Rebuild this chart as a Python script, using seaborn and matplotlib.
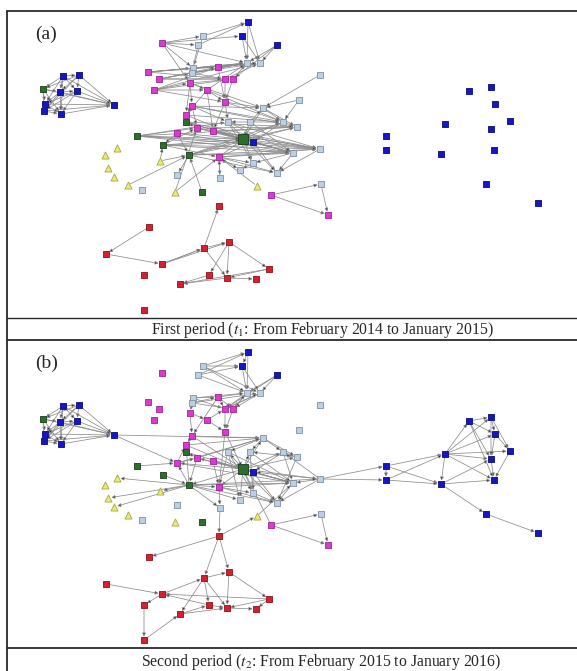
import numpy as np
import pandas as pd
import matplotlib
matplotlib.use("Agg")
import matplotlib.pyplot as plt
from matplotlib.lines import Line2D
import seaborn as sns

sns.set_style("white")
plt.rcParams['font.family'] = ['Liberation Serif', 'DejaVu Serif']
plt.rcParams['mathtext.fontset'] = 'stix'

# node layout (same layout in both periods)
node_x = [63, 79, 43, 60, 77, 45, 44, 61, 114,
          248, 203, 198, 242, 277, 162, 247, 260, 148, 159, 154,
          193, 192, 218, 190, 207, 225, 233, 225, 320, 299,
          192, 186, 186, 197, 213, 263, 283, 297, 137, 163,
          243, 253, 228, 189, 219, 320, 293, 253, 277, 240,
          220, 177, 160, 128, 142, 175, 202, 257, 271, 321,
          328, 105, 117, 108, 114,
          219, 149, 106, 162, 204, 229, 269, 209, 227, 256, 180, 144, 144,
          469, 491, 495, 510, 445, 491, 386, 386, 441, 494, 486, 538,
          177, 250]
node_y = [76, 75, 89, 92, 91, 104, 111, 114, 105,
          22, 36, 45, 36, 45, 43, 63, 63, 72, 79, 90,
          68, 73, 67, 83, 90, 79, 79, 102, 75, 100,
          106, 115, 122, 128, 131, 108, 122, 127, 136, 145,
          139, 142, 122, 155, 157, 149, 153, 163, 173, 170,
          178, 175, 161, 185, 190, 192, 192, 186, 195, 184,
          215, 155, 148, 168, 177,
          206, 227, 254, 264, 248, 242, 269, 275, 278, 279, 284, 275, 310,
          91, 87, 104, 121, 124, 129, 136, 150, 154, 150, 184, 203,
          133, 122]
node_group = list("BBGBBBBBB"
                  "BLLBBMLLMMM"
                  "LLMMMMMMLL"
                  "MMGMMLLLGG"
                  "GBLGMLLLLL"
                  "LLYYLYGYML"
                  "MYYYY"
                  "RRRRRRRRRRRRR"
                  "BBBBBBBBBBBB"
                  "ML")
node_big = [40]

left_edges = [(0, 1), (0, 2), (0, 3), (0, 4), (0, 5), (0, 7), (1, 3), (1, 4), (1, 2), (1, 6),
              (2, 3), (2, 5), (2, 6), (2, 7), (3, 4), (3, 5), (3, 6), (3, 7), (4, 5), (4, 7),
              (4, 6), (5, 6), (5, 7), (6, 7), (0, 8), (1, 8), (2, 8), (3, 8), (4, 8), (5, 8),
              (6, 8), (7, 8)]

edges_a = [(14, 10), (14, 11), (14, 20), (14, 23), (10, 9), (11, 9), (10, 20), (11, 21), (9, 15),
           (9, 16), (12, 15), (12, 16), (13, 16), (13, 15), (13, 26), (17, 20), (17, 22), (17, 25),
           (18, 21), (18, 22), (18, 26), (19, 23), (19, 24), (19, 27), (20, 22), (21, 25), (20, 15),
           (21, 16), (22, 15), (25, 16), (26, 15), (23, 24), (23, 30), (24, 27), (22, 27), (25, 27),
           (26, 27), (24, 31), (23, 31), (30, 31), (31, 32), (30, 33), (32, 33), (27, 34), (27, 42),
           (24, 34), (30, 42), (28, 35), (29, 35), (29, 36), (35, 36), (35, 37), (36, 37), (35, 40),
           (36, 40), (37, 40), (36, 41), (38, 40), (38, 41), (38, 33), (38, 42), (39, 40), (39, 44),
           (39, 33), (43, 40), (43, 41), (43, 36), (43, 46), (43, 45), (44, 45), (44, 46), (44, 40),
           (40, 45), (40, 46), (41, 46), (41, 48), (40, 47), (42, 47), (42, 48), (33, 46), (34, 46),
           (34, 37), (32, 41), (33, 40), (34, 40), (44, 49), (44, 50), (47, 49), (46, 48), (45, 48),
           (46, 47), (43, 51), (53, 43), (55, 33), (56, 43), (57, 44), (50, 44), (58, 59), (58, 60),
           (59, 60), (90, 39), (90, 43), (90, 40), (91, 40), (91, 35), (91, 42), (52, 39), (31, 41),
           (30, 37), (32, 46), (27, 35), (24, 36),
           (17, 15), (17, 16), (18, 15), (19, 26), (19, 16), (14, 15), (14, 12), (38, 45), (38, 46),
           (38, 37), (39, 45), (39, 46), (43, 37), (43, 48), (32, 45), (31, 36), (30, 36), (33, 45),
           (34, 45), (44, 48), (44, 47), (42, 46), (42, 45), (41, 45), (91, 46), (91, 36), (30, 35),
           (23, 35), (27, 36), (33, 37), (32, 37), (39, 41), (90, 46), (44, 41), (55, 44), (52, 43),
           (20, 16), (21, 15), (22, 16), (24, 15), (23, 26), (18, 25), (19, 22),
           (66, 67), (67, 68), (68, 69), (68, 70), (69, 65), (69, 70), (69, 73), (70, 72), (70, 73),
           (70, 71), (71, 73), (73, 74), (73, 75), (72, 75), (71, 75), (68, 69)]

edges_b = [(10, 9), (11, 9), (10, 12), (11, 12), (9, 12), (12, 15), (9, 15), (13, 15), (13, 16),
           (12, 16), (10, 16), (11, 15), (13, 25), (20, 22), (21, 22), (20, 25), (21, 26), (15, 25),
           (16, 26), (15, 26), (16, 25), (22, 25), (22, 26), (20, 23), (21, 23), (23, 24), (24, 25),
           (24, 27), (25, 27), (26, 27), (23, 30), (22, 30), (8, 35), (8, 90), (30, 35), (30, 31),
           (30, 40), (27, 44), (27, 40), (31, 40), (32, 40), (32, 33), (33, 43), (34, 40), (34, 44),
           (40, 35), (40, 36), (40, 37), (40, 41), (40, 42), (40, 91), (40, 46), (40, 47), (40, 48),
           (40, 49), (40, 45), (40, 90), (40, 43), (40, 44), (40, 33), (35, 36), (35, 91), (35, 42),
           (36, 37), (37, 91), (36, 41), (42, 44), (91, 47), (46, 48), (47, 48), (45, 46), (45, 48),
           (45, 36), (45, 41), (45, 84), (45, 85), (41, 47), (42, 49), (43, 52), (43, 62), (43, 63),
           (43, 64), (43, 44), (43, 46), (43, 49), (43, 50), (43, 31), (43, 90), (38, 90), (39, 43),
           (90, 33), (90, 31), (44, 50), (50, 65), (65, 57), (57, 46), (58, 59), (58, 60), (59, 60),
           (58, 40), (44, 47),
           (20, 15), (21, 16), (10, 15), (22, 15), (25, 16), (26, 15), (31, 35), (90, 35), (33, 35),
           (43, 45), (43, 48), (44, 46), (44, 48), (33, 46), (34, 46), (90, 46), (42, 46), (41, 46),
           (91, 46), (36, 46), (37, 48), (35, 37), (41, 48), (42, 47),
           (84, 85), (84, 82), (84, 86), (85, 82), (85, 86), (82, 78), (82, 79), (82, 80), (82, 81),
           (82, 83), (82, 87), (82, 86), (78, 79), (78, 80), (78, 83), (79, 80), (79, 81), (80, 83),
           (80, 81), (81, 87), (83, 87), (79, 83), (86, 83), (86, 87), (86, 88), (88, 89), (78, 87),
           (65, 66), (65, 69), (65, 70), (69, 70), (68, 69), (69, 72), (69, 75), (70, 73), (70, 71),
           (67, 68), (68, 76), (76, 77), (77, 75), (75, 73), (75, 72), (72, 73), (73, 74), (71, 74),
           (71, 73), (71, 68), (72, 68), (69, 73)]

labels = ["(a)", "(b)"]
captions = [r"First period ($t_1$: From February 2014 to January 2015)",
            r"Second period ($t_2$: From February 2015 to January 2016)"]

styles = {
    'B': dict(color='#1616c8', edgecolor='#0a0a7a', marker='s'),
    'M': dict(color='#d83ad2', edgecolor='#a0209a', marker='s'),
    'L': dict(color='#bccfe2', edgecolor='#7f8fa0', marker='s'),
    'G': dict(color='#2f6d2f', edgecolor='#183e18', marker='s'),
    'Y': dict(color='#e8e87c', edgecolor='#a8a838', marker='^'),
    'R': dict(color='#d52030', edgecolor='#8e1018', marker='s'),
}

nodes = pd.DataFrame({'x': node_x, 'y': node_y, 'group': node_group})
nodes['big'] = [i in node_big for i in range(len(nodes))]

W, H = 577, 671
fig = plt.figure(figsize=(W / 100, H / 100), dpi=100)
fig.patch.set_facecolor('white')


def fy(py):
    return 1 - py / H


panels = [(11, 318, 0, left_edges + edges_a), (340, 648, 330, left_edges + edges_b)]
for k, (top, bot, shift, edges) in enumerate(panels):
    ax = fig.add_axes([7 / W, fy(bot), 1 - 7 / W, (bot - top) / H])
    ax.set_xlim(7, 577)
    ax.set_ylim(bot - shift, top - shift)
    ax.axis('off')

    for s, t in edges:
        ax.annotate("", xy=(node_x[t], node_y[t]), xytext=(node_x[s], node_y[s]),
                    arrowprops=dict(arrowstyle='-|>', fc='#151515', ec='#8c8c8c',
                                    lw=0.55, mutation_scale=5, shrinkA=2, shrinkB=2.5),
                    zorder=2)

    for g, st in styles.items():
        sub = nodes[(nodes.group == g) & (~nodes.big)]
        sns.scatterplot(data=sub, x='x', y='y', ax=ax, s=18 if g != 'Y' else 26,
                        marker=st['marker'], color=st['color'], edgecolor=st['edgecolor'],
                        linewidth=0.6, legend=False, zorder=4)
    bigs = nodes[nodes.big]
    sns.scatterplot(data=bigs, x='x', y='y', ax=ax, s=55, marker='s', color='#2f6d2f',
                    edgecolor='#183e18', linewidth=0.6, legend=False, zorder=4)
    ax.set_xlabel('')
    ax.set_ylabel('')

    fig.text(35 / W, fy(top + 23), labels[k], fontsize=14, va='center', ha='left')

fig.text(322 / W, fy(330), captions[0], fontsize=11.3, ha='center', va='center')
fig.text(321 / W, fy(662), captions[1], fontsize=11.3, ha='center', va='center')

for py, lw in [(11, 1.3), (318, 1.0), (340, 1.3), (648, 1.3)]:
    fig.add_artist(Line2D([7 / W, 1], [fy(py), fy(py)], color='#2a2a2a', lw=lw,
                          transform=fig.transFigure))
fig.add_artist(Line2D([7 / W, 7 / W], [fy(11), 0], color='#2a2a2a', lw=1.3,
                      transform=fig.transFigure))

fig.savefig("out.png", dpi=100)
